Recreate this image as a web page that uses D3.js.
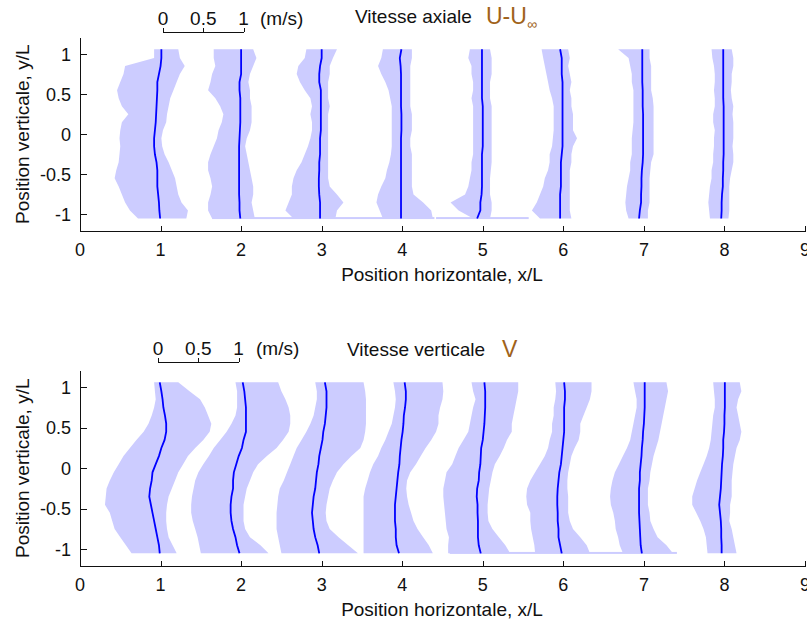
<!DOCTYPE html>
<html><head><meta charset="utf-8">
<script src="https://cdn.jsdelivr.net/npm/d3@7"></script>
<style>
html,body{margin:0;padding:0;background:#fff;}
svg text{font-family:"Liberation Sans",Arial,sans-serif;fill:#111;}
</style></head>
<body>
<svg id="chart" width="807" height="620"></svg>
<script>
// ---------- data ----------
const stations = [1, 2, 3, 4, 5, 6, 7, 8];
const xTicks = [0, 1, 2, 3, 4, 5, 6, 7, 8, 9];
const yTicks = [-1, -0.5, 0, 0.5, 1];
const yLevels = [1.06, 0.95, 0.85, 0.75, 0.65, 0.55, 0.45, 0.35, 0.25, 0.15, 0.05,
                 -0.05, -0.15, -0.25, -0.35, -0.45, -0.55, -0.65, -0.75, -0.85, -0.95, -1.05];
const scaleTicks = [0, 0.5, 1];

// Axial velocity U-Uinf (m/s): mean, lower and upper band edges, per station
const uMean = [
 [0.01,0.01,0.0,-0.02,-0.04,-0.04,-0.045,-0.05,-0.055,-0.06,-0.07,-0.08,-0.08,-0.07,-0.05,-0.04,-0.04,-0.04,-0.03,-0.02,-0.015,-0.005],
 [0,0,0,0,-0.02,-0.02,-0.01,-0.01,-0.01,-0.01,-0.015,-0.02,-0.025,-0.025,-0.025,-0.025,-0.025,-0.025,-0.025,-0.02,-0.02,-0.01],
 [0,0,-0.02,-0.03,-0.03,-0.01,-0.01,-0.01,-0.01,-0.01,-0.01,-0.02,-0.02,-0.02,-0.03,-0.03,-0.035,-0.035,-0.03,-0.02,-0.02,-0.02],
 [-0.01,-0.03,-0.02,-0.015,-0.015,-0.015,-0.015,-0.015,-0.01,-0.01,-0.01,-0.015,-0.015,-0.015,-0.015,-0.015,-0.015,-0.015,-0.015,-0.015,-0.015,-0.015],
 [-0.01,-0.01,-0.01,-0.01,-0.01,-0.01,-0.01,0,0,0,0,0,0,-0.01,-0.01,-0.01,-0.01,-0.01,-0.015,-0.03,-0.03,-0.07],
 [-0.04,-0.02,-0.02,-0.02,-0.01,-0.01,-0.01,-0.01,-0.01,-0.01,-0.01,-0.01,-0.01,-0.02,-0.03,-0.03,-0.03,-0.03,-0.04,-0.04,-0.04,-0.04],
 [-0.02,-0.02,-0.02,-0.02,-0.02,-0.015,-0.015,-0.015,-0.01,-0.01,-0.01,-0.01,-0.01,-0.01,-0.015,-0.025,-0.03,-0.03,-0.035,-0.035,-0.05,-0.06],
 [-0.015,-0.015,-0.015,-0.015,-0.015,-0.015,-0.015,-0.01,-0.01,-0.01,-0.01,-0.01,-0.01,-0.01,-0.015,-0.015,-0.02,-0.02,-0.03,-0.035,-0.035,-0.04]
];
const uLow = [
 [-0.08,-0.08,-0.44,-0.46,-0.50,-0.54,-0.52,-0.48,-0.40,-0.48,-0.50,-0.51,-0.50,-0.51,-0.52,-0.55,-0.57,-0.52,-0.48,-0.44,-0.38,-0.28],
 [-0.34,-0.34,-0.32,-0.36,-0.38,-0.41,-0.32,-0.26,-0.22,-0.24,-0.28,-0.30,-0.34,-0.38,-0.41,-0.41,-0.38,-0.36,-0.38,-0.41,-0.41,-0.36],
 [-0.19,-0.21,-0.29,-0.31,-0.27,-0.21,-0.14,-0.12,-0.14,-0.12,-0.12,-0.14,-0.17,-0.21,-0.25,-0.31,-0.35,-0.37,-0.37,-0.41,-0.45,-0.35],
 [-0.24,-0.26,-0.30,-0.26,-0.21,-0.17,-0.15,-0.13,-0.13,-0.13,-0.13,-0.13,-0.13,-0.14,-0.16,-0.19,-0.21,-0.26,-0.30,-0.32,-0.28,-0.24],
 [-0.16,-0.18,-0.14,-0.14,-0.12,-0.12,-0.14,-0.12,-0.12,-0.12,-0.12,-0.12,-0.12,-0.12,-0.14,-0.14,-0.16,-0.18,-0.22,-0.40,-0.30,-0.12],
 [-0.27,-0.25,-0.23,-0.21,-0.19,-0.17,-0.14,-0.12,-0.12,-0.12,-0.12,-0.13,-0.14,-0.17,-0.17,-0.19,-0.23,-0.25,-0.29,-0.33,-0.39,-0.29],
 [-0.32,-0.19,-0.17,-0.15,-0.15,-0.13,-0.13,-0.13,-0.13,-0.13,-0.14,-0.15,-0.15,-0.15,-0.17,-0.17,-0.19,-0.21,-0.22,-0.23,-0.22,-0.19],
 [-0.16,-0.15,-0.13,-0.12,-0.12,-0.13,-0.12,-0.12,-0.14,-0.14,-0.12,-0.13,-0.13,-0.14,-0.14,-0.16,-0.16,-0.18,-0.19,-0.20,-0.19,-0.18]
];
const uHigh = [
 [0.22,0.24,0.30,0.24,0.20,0.16,0.12,0.10,0.08,0.07,0.03,0.01,0.02,0.05,0.10,0.14,0.18,0.20,0.22,0.26,0.34,0.32],
 [0.15,0.19,0.15,0.11,0.09,0.11,0.11,0.13,0.13,0.13,0.11,0.07,0.05,0.07,0.09,0.11,0.13,0.15,0.15,0.13,0.15,0.17],
 [0.19,0.14,0.10,0.10,0.08,0.08,0.08,0.10,0.08,0.08,0.08,0.08,0.08,0.08,0.08,0.08,0.08,0.10,0.19,0.27,0.19,0.17],
 [0.12,0.12,0.10,0.10,0.10,0.10,0.10,0.10,0.12,0.12,0.12,0.10,0.10,0.12,0.12,0.12,0.12,0.12,0.14,0.26,0.36,0.38],
 [0.09,0.11,0.11,0.11,0.09,0.09,0.09,0.11,0.11,0.11,0.11,0.11,0.11,0.11,0.11,0.10,0.09,0.09,0.09,0.11,0.11,0.09],
 [0.06,0.08,0.06,0.08,0.10,0.08,0.10,0.10,0.12,0.12,0.12,0.17,0.12,0.10,0.10,0.08,0.08,0.08,0.08,0.08,0.08,0.10],
 [0.07,0.07,0.09,0.09,0.09,0.09,0.11,0.12,0.12,0.12,0.12,0.12,0.12,0.12,0.09,0.08,0.07,0.07,0.07,0.07,0.05,0.05],
 [0.09,0.11,0.11,0.09,0.09,0.08,0.09,0.11,0.10,0.11,0.11,0.11,0.10,0.11,0.11,0.09,0.07,0.06,0.06,0.06,0.06,0.05]
];
// single wide bottom samples: [station index, y/L, low, high]
const uSpikes = [[2, -1.045, -1.36, 1.40], [4, -1.045, -0.58, 0.57]];

// Vertical velocity V (m/s)
const vMean = [
 [-0.01,0.01,0.025,0.035,0.055,0.07,0.07,0.05,0.01,-0.02,-0.06,-0.10,-0.11,-0.13,-0.14,-0.12,-0.10,-0.08,-0.06,-0.04,-0.02,-0.01],
 [0.02,0.04,0.05,0.06,0.06,0.06,0.06,0.03,0.01,-0.03,-0.06,-0.09,-0.10,-0.10,-0.12,-0.13,-0.13,-0.12,-0.10,-0.07,-0.05,-0.02],
 [0.04,0.06,0.06,0.06,0.05,0.04,0.02,0.01,-0.01,-0.03,-0.04,-0.06,-0.07,-0.08,-0.10,-0.11,-0.12,-0.11,-0.10,-0.08,-0.05,-0.03],
 [0.03,0.045,0.045,0.035,0.02,0.015,0.005,-0.01,-0.02,-0.03,-0.035,-0.05,-0.06,-0.07,-0.08,-0.09,-0.09,-0.09,-0.08,-0.08,-0.07,-0.04],
 [0.02,0.03,0.03,0.03,0.025,0.02,0.01,0,-0.02,-0.025,-0.03,-0.045,-0.05,-0.07,-0.075,-0.065,-0.065,-0.06,-0.06,-0.06,-0.05,-0.025],
 [0.01,0.02,0.02,0.01,0.01,0.01,0.01,0,-0.01,-0.02,-0.03,-0.05,-0.06,-0.07,-0.075,-0.075,-0.07,-0.07,-0.06,-0.06,-0.04,-0.02],
 [0.01,0.01,0.01,0.01,0.005,0,-0.01,-0.015,-0.025,-0.03,-0.04,-0.05,-0.05,-0.06,-0.06,-0.06,-0.06,-0.055,-0.05,-0.045,-0.04,-0.025],
 [0.005,0.005,0.005,0.005,0.0,0.0,-0.005,-0.015,-0.015,-0.02,-0.03,-0.035,-0.04,-0.045,-0.055,-0.065,-0.055,-0.045,-0.04,-0.04,-0.035,-0.035]
];
const vLow = [
 [-0.08,-0.07,-0.06,-0.08,-0.11,-0.15,-0.21,-0.30,-0.38,-0.46,-0.52,-0.58,-0.63,-0.67,-0.68,-0.69,-0.63,-0.60,-0.57,-0.50,-0.43,-0.36],
 [-0.07,-0.05,-0.05,-0.05,-0.07,-0.12,-0.18,-0.26,-0.34,-0.40,-0.47,-0.53,-0.57,-0.59,-0.61,-0.62,-0.62,-0.60,-0.57,-0.54,-0.52,-0.50],
 [-0.08,-0.06,-0.06,-0.08,-0.10,-0.14,-0.19,-0.25,-0.31,-0.35,-0.39,-0.43,-0.47,-0.52,-0.54,-0.55,-0.56,-0.56,-0.56,-0.54,-0.52,-0.50],
 [-0.11,-0.09,-0.08,-0.09,-0.11,-0.13,-0.17,-0.21,-0.26,-0.30,-0.36,-0.40,-0.43,-0.46,-0.48,-0.48,-0.48,-0.48,-0.48,-0.48,-0.48,-0.48],
 [-0.14,-0.12,-0.09,-0.12,-0.14,-0.16,-0.18,-0.24,-0.30,-0.34,-0.38,-0.45,-0.47,-0.49,-0.49,-0.48,-0.47,-0.46,-0.45,-0.42,-0.43,-0.43],
 [-0.10,-0.09,-0.10,-0.12,-0.12,-0.14,-0.14,-0.17,-0.19,-0.23,-0.29,-0.35,-0.41,-0.45,-0.46,-0.45,-0.41,-0.41,-0.40,-0.38,-0.36,-0.35],
 [-0.13,-0.11,-0.09,-0.09,-0.11,-0.13,-0.15,-0.17,-0.21,-0.26,-0.31,-0.36,-0.39,-0.41,-0.42,-0.41,-0.38,-0.36,-0.35,-0.32,-0.30,-0.26],
 [-0.14,-0.13,-0.12,-0.12,-0.14,-0.15,-0.16,-0.17,-0.19,-0.22,-0.26,-0.30,-0.34,-0.37,-0.40,-0.40,-0.35,-0.30,-0.26,-0.23,-0.22,-0.21]
];
const vHigh = [
 [0.22,0.36,0.49,0.55,0.59,0.63,0.61,0.53,0.43,0.34,0.28,0.22,0.18,0.14,0.10,0.08,0.07,0.07,0.08,0.10,0.15,0.20],
 [0.46,0.50,0.55,0.59,0.61,0.61,0.59,0.52,0.44,0.32,0.21,0.15,0.11,0.07,0.05,0.03,0.03,0.03,0.05,0.11,0.24,0.34],
 [0.52,0.54,0.55,0.55,0.55,0.55,0.54,0.52,0.48,0.37,0.27,0.19,0.14,0.10,0.08,0.06,0.05,0.06,0.10,0.21,0.33,0.45],
 [0.50,0.51,0.50,0.47,0.45,0.45,0.42,0.36,0.29,0.23,0.17,0.10,0.06,0.05,0.06,0.08,0.11,0.14,0.19,0.26,0.33,0.38],
 [0.44,0.44,0.42,0.40,0.38,0.36,0.36,0.30,0.26,0.21,0.15,0.12,0.10,0.08,0.07,0.06,0.06,0.07,0.12,0.20,0.28,0.34],
 [0.35,0.35,0.33,0.29,0.25,0.21,0.21,0.19,0.14,0.10,0.08,0.06,0.05,0.05,0.06,0.06,0.06,0.08,0.12,0.21,0.29,0.33],
 [0.28,0.30,0.28,0.26,0.24,0.22,0.20,0.18,0.15,0.12,0.10,0.08,0.07,0.05,0.05,0.05,0.07,0.08,0.12,0.17,0.28,0.36],
 [0.19,0.21,0.17,0.15,0.17,0.19,0.21,0.19,0.15,0.13,0.11,0.10,0.09,0.09,0.09,0.07,0.07,0.06,0.09,0.11,0.13,0.15]
];
const vSpikes = [[5, -1.045, -1.41, 1.41]];

// ---------- drawing ----------
const svg = d3.select("#chart");
const x = d3.scaleLinear().domain([0, 9]).range([80, 805]);
const BAND = "#ccccff", LINE = "#0000ff", AXIS = "#111";

function panel(cfg) {
  const y = d3.scaleLinear().domain([-1.2, 1.2]).range(cfg.yRange);
  const g = svg.append("g");

  // bands
  stations.forEach((st, i) => {
    const pts = yLevels.map((yy, k) => ({y: yy, lo: cfg.low[i][k], hi: cfg.high[i][k]}));
    g.append("path")
      .attr("d", d3.area().y(d => y(d.y)).x0(d => x(st + d.lo)).x1(d => x(st + d.hi))(pts))
      .attr("fill", BAND);
  });
  cfg.spikes.forEach(s => {
    const st = stations[s[0]];
    g.append("rect")
      .attr("x", x(st + s[2])).attr("width", x(st + s[3]) - x(st + s[2]))
      .attr("y", y(s[1]) - 1).attr("height", 2)
      .attr("fill", BAND);
  });
  // mean lines
  stations.forEach((st, i) => {
    const pts = yLevels.map((yy, k) => ({y: yy, m: cfg.mean[i][k]}));
    g.append("path")
      .attr("d", d3.line().x(d => x(st + d.m)).y(d => y(d.y))(pts))
      .attr("fill", "none").attr("stroke", LINE).attr("stroke-width", 1.8);
  });

  // axes (MATLAB style: left & bottom, ticks inward)
  const y0 = Math.round(y(-1.2)) + 0.5, x0 = 80.5;
  const ax = svg.append("g").attr("stroke", AXIS).attr("stroke-width", 1).attr("shape-rendering", "crispEdges");
  ax.append("line").attr("x1", x0).attr("x2", x(9)).attr("y1", y0).attr("y2", y0);
  ax.append("line").attr("x1", x0).attr("x2", x0).attr("y1", y0).attr("y2", y(1.2));
  xTicks.forEach(t => ax.append("line").attr("x1", Math.round(x(t)) + 0.5).attr("x2", Math.round(x(t)) + 0.5)
    .attr("y1", y0).attr("y2", y0 - 6));
  yTicks.forEach(t => ax.append("line").attr("x1", x0).attr("x2", x0 + 6)
    .attr("y1", Math.round(y(t)) + 0.5).attr("y2", Math.round(y(t)) + 0.5));

  const tl = svg.append("g").style("font-size", "18px");
  xTicks.forEach(t => tl.append("text").attr("x", x(t)).attr("y", y0 + 24)
    .attr("text-anchor", "middle").text(t));
  yTicks.forEach(t => tl.append("text").attr("x", 71).attr("y", y(t) + 6.5)
    .attr("text-anchor", "end").text(t));

  svg.append("text").attr("x", 442).attr("y", y0 + 49).attr("text-anchor", "middle")
    .style("font-size", "19px").text("Position horizontale, x/L");
  svg.append("text").attr("transform", `translate(29,${y(0)}) rotate(-90)`)
    .attr("text-anchor", "middle").style("font-size", "19px").text("Position verticale, y/L");

  // velocity scale bar
  const sb = cfg.scaleBar, len = x(1) - x(0);
  const sg = svg.append("g").attr("stroke", AXIS).attr("shape-rendering", "crispEdges");
  sg.append("line").attr("x1", sb.x).attr("x2", sb.x + len).attr("y1", sb.y + 0.5).attr("y2", sb.y + 0.5);
  scaleTicks.forEach(t => sg.append("line").attr("x1", Math.round(sb.x + t * len) + 0.5)
    .attr("x2", Math.round(sb.x + t * len) + 0.5).attr("y1", sb.y).attr("y2", sb.y - 4));
  scaleTicks.forEach(t => svg.append("text").attr("x", sb.x + t * len).attr("y", sb.labelY)
    .attr("text-anchor", "middle").style("font-size", "19px").text(t));
  svg.append("text").attr("x", sb.unitX).attr("y", sb.labelY).style("font-size", "19px").text("(m/s)");

  // title
  svg.append("text").attr("x", cfg.title.x).attr("y", cfg.title.y).style("font-size", "19px").text(cfg.title.text);
  const sym = svg.append("text").attr("x", cfg.title.symX).attr("y", cfg.title.y + 1)
    .style("font-size", "23px").style("fill", "#a0621a");
  sym.append("tspan").text(cfg.title.sym);
  if (cfg.title.sub) sym.append("tspan").attr("dy", 5).style("font-size", "14px").text(cfg.title.sub);
}

panel({
  yRange: [230.5, 38], mean: uMean, low: uLow, high: uHigh, spikes: uSpikes,
  scaleBar: {x: 163, y: 32, labelY: 25, unitX: 260},
  title: {text: "Vitesse axiale", x: 355, y: 23, sym: "U-U", sub: "\u221e", symX: 486}
});
panel({
  yRange: [565.5, 371], mean: vMean, low: vLow, high: vHigh, spikes: vSpikes,
  scaleBar: {x: 158, y: 362, labelY: 355, unitX: 256},
  title: {text: "Vitesse verticale", x: 347, y: 356, sym: "V", sub: null, symX: 502}
});
</script>
</body></html>
